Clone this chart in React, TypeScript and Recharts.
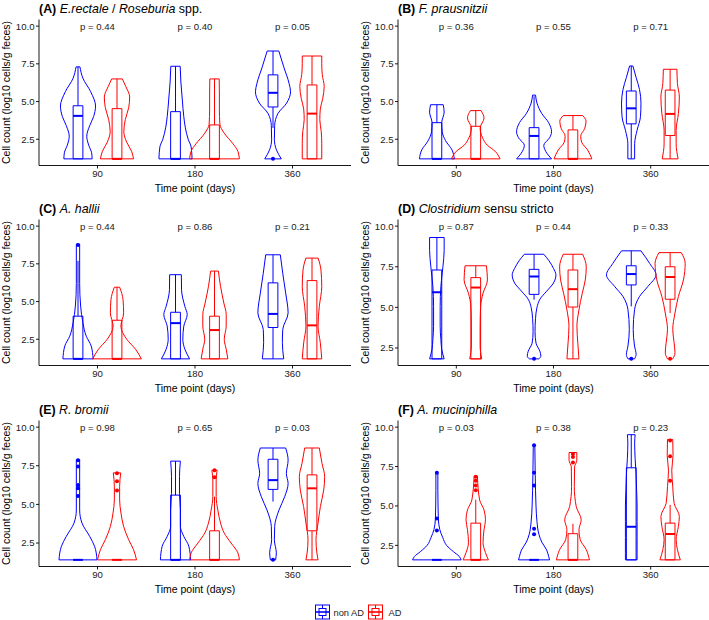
import React from 'react';
import { ComposedChart, XAxis, YAxis, Scatter, ReferenceLine, ReferenceArea } from 'recharts';

const timepoints = ['90', '180', '360'];
const groupNames = ['non AD', 'AD'];
const groupColors = ['#0000FF', '#FF0000'];
const FONT = '"Liberation Sans", Arial, Helvetica, sans-serif';

// Violin profiles: [value, half-width] from top to bottom.
// Order: 90 non AD, 90 AD, 180 non AD, 180 AD, 360 non AD, 360 AD
const profilesA = [
  [[7.3, 0.02], [6.55, 0.05], [5.65, 0.13], [4.7, 0.18], [4.0, 0.16], [3.4, 0.12], [2.7, 0.09], [2.1, 0.11], [1.6, 0.14], [1.2, 0.145]],
  [[6.5, 0.055], [6.0, 0.09], [5.3, 0.13], [4.6, 0.12], [3.8, 0.085], [3.0, 0.07], [2.3, 0.1], [1.7, 0.15], [1.2, 0.17]],
  [[7.34, 0.048], [6.3, 0.055], [5.1, 0.07], [4.0, 0.085], [3.3, 0.1], [2.5, 0.13], [2.0, 0.16], [1.2, 0.17]],
  [[6.5, 0.048], [5.5, 0.05], [4.5, 0.05], [3.5, 0.055], [2.9, 0.1], [2.2, 0.19], [1.7, 0.24], [1.2, 0.255]],
  [[8.35, 0.06], [7.3, 0.11], [6.2, 0.165], [5.65, 0.18], [4.9, 0.14], [4.2, 0.05], [3.4, 0.017], [2.5, 0.014], [1.8, 0.035], [1.2, 0.085]],
  [[8.02, 0.1], [7.5, 0.1], [6.8, 0.105], [6.0, 0.125], [5.2, 0.11], [4.5, 0.085], [3.8, 0.08], [3.0, 0.095], [2.2, 0.1], [1.2, 0.1]],
];
// Box stats: [lower whisker, q1, median, q3, upper whisker]
const boxesA = [[1.2, 1.2, 4.05, 4.72, 7.3], [1.2, 1.2, 1.2, 4.53, 6.5], [1.2, 1.2, 1.2, 4.33, 7.34], [1.2, 1.2, 1.2, 3.45, 6.5], [3.25, 4.64, 5.58, 6.77, 8.35], [1.2, 1.2, 4.2, 6.1, 8.02]];
const outliersA = [[], [], [], [], [1.2], []];
const pValuesA = ['0.44', '0.40', '0.05'];

const profilesB = [
  [[4.79, 0.065], [4.3, 0.075], [3.6, 0.05], [3.0, 0.055], [2.4, 0.09], [1.8, 0.155], [1.2, 0.18]],
  [[4.4, 0.055], [3.9, 0.085], [3.25, 0.045], [2.6, 0.07], [2.1, 0.12], [1.7, 0.2], [1.2, 0.25]],
  [[5.43, 0.015], [4.9, 0.03], [4.2, 0.08], [3.6, 0.15], [3.0, 0.18], [2.6, 0.16], [2.1, 0.1], [1.7, 0.12], [1.2, 0.18]],
  [[4.07, 0.1], [3.7, 0.135], [3.2, 0.12], [2.7, 0.08], [2.3, 0.09], [1.8, 0.15], [1.2, 0.195]],
  [[7.36, 0.017], [6.6, 0.05], [5.8, 0.085], [4.9, 0.1], [4.0, 0.095], [3.1, 0.06], [2.2, 0.035], [1.2, 0.035]],
  [[7.14, 0.07], [6.2, 0.075], [5.3, 0.095], [4.2, 0.085], [3.1, 0.062], [2.2, 0.062], [1.2, 0.082]],
];
const boxesB = [[1.2, 1.2, 1.2, 3.6, 4.79], [1.2, 1.2, 1.2, 3.36, 4.4], [1.2, 1.2, 2.72, 3.27, 5.35], [1.2, 1.2, 1.2, 3.12, 4.07], [1.2, 3.52, 4.55, 5.7, 7.36], [1.2, 2.75, 4.18, 5.76, 7.14]];
const outliersB = [[], [], [], [], [], []];
const pValuesB = ['0.36', '0.55', '0.71'];

const profilesC = [
  [[8.8, 0.017], [7.75, 0.017], [6.2, 0.017], [4.7, 0.027], [3.6, 0.05], [2.7, 0.085], [2.06, 0.135], [1.2, 0.155]],
  [[5.95, 0.027], [5.12, 0.062], [4.25, 0.068], [3.37, 0.04], [2.5, 0.1], [1.84, 0.19], [1.2, 0.25]],
  [[6.78, 0.06], [5.78, 0.062], [4.68, 0.096], [4.14, 0.12], [3.37, 0.085], [2.5, 0.075], [1.84, 0.096], [1.2, 0.145]],
  [[7.02, 0.04], [6.0, 0.062], [4.9, 0.096], [4.14, 0.12], [3.37, 0.12], [2.5, 0.1], [1.84, 0.12], [1.2, 0.137]],
  [[8.1, 0.075], [6.87, 0.1], [5.56, 0.13], [4.25, 0.155], [3.15, 0.1], [2.28, 0.096], [1.2, 0.11]],
  [[7.88, 0.063], [7.09, 0.092], [6.0, 0.1], [4.68, 0.075], [3.37, 0.062], [2.28, 0.085], [1.2, 0.1]],
];
const boxesC = [[1.2, 1.2, 1.2, 4.03, 7.7], [1.2, 1.2, 1.2, 3.76, 5.95], [1.2, 1.2, 3.57, 4.29, 6.78], [1.2, 1.2, 3.11, 4.03, 7.02], [1.2, 3.28, 4.18, 6.24, 8.1], [1.2, 1.2, 3.42, 6.39, 7.88]];
const outliersC = [[8.75], [], [], [], [], []];
const pValuesC = ['0.44', '0.86', '0.21'];

const profilesD = [
  [[9.3, 0.075], [8.5, 0.075], [7.5, 0.062], [6.28, 0.041], [5.06, 0.034], [3.84, 0.034], [3.03, 0.041], [2.42, 0.05], [1.83, 0.075]],
  [[7.56, 0.11], [6.69, 0.12], [5.87, 0.075], [5.06, 0.05], [3.84, 0.045], [2.62, 0.045], [1.83, 0.062]],
  [[8.27, 0.1], [7.9, 0.15], [7.4, 0.2], [7.0, 0.225], [6.5, 0.2], [6.0, 0.13], [5.5, 0.06], [5.0, 0.03], [4.3, 0.015], [3.5, 0.01], [2.8, 0.02], [2.3, 0.06], [2.0, 0.07], [1.83, 0.05]],
  [[8.27, 0.1], [7.5, 0.137], [6.69, 0.127], [5.87, 0.096], [4.85, 0.062], [3.84, 0.041], [2.82, 0.05], [1.83, 0.062]],
  [[8.48, 0.1], [7.7, 0.19], [7.0, 0.255], [6.28, 0.17], [5.67, 0.085], [4.86, 0.034], [3.64, 0.02], [2.62, 0.034], [2.1, 0.05], [1.83, 0.034]],
  [[8.37, 0.115], [7.7, 0.155], [6.69, 0.137], [5.67, 0.085], [4.65, 0.05], [3.64, 0.027], [2.82, 0.041], [2.2, 0.05], [1.83, 0.027]],
];
const boxesD = [[1.83, 1.83, 5.93, 7.3, 9.3], [1.83, 1.83, 6.22, 6.83, 7.56], [5.47, 5.8, 6.9, 7.34, 8.27], [1.83, 5.02, 6.12, 7.3, 8.27], [5.06, 6.38, 7.05, 7.56, 8.48], [4.65, 5.5, 6.87, 7.5, 8.37]];
const outliersD = [[], [], [1.83], [], [1.83], [1.83]];
const pValuesD = ['0.87', '0.44', '0.33'];

const profilesE = [
  [[7.9, 0.017], [6.36, 0.017], [4.64, 0.017], [3.79, 0.041], [2.93, 0.12], [2.29, 0.17], [1.41, 0.195]],
  [[7.04, 0.038], [6.14, 0.027], [5.29, 0.027], [4.43, 0.041], [3.57, 0.068], [2.71, 0.12], [2.07, 0.17], [1.41, 0.2]],
  [[7.8, 0.05], [6.8, 0.041], [5.71, 0.041], [4.64, 0.05], [3.57, 0.05], [2.93, 0.085], [2.29, 0.137], [1.41, 0.155]],
  [[7.21, 0.027], [6.57, 0.017], [5.5, 0.017], [4.64, 0.034], [3.79, 0.062], [3.14, 0.1], [2.5, 0.17], [1.86, 0.24], [1.41, 0.255]],
  [[8.65, 0.13], [7.86, 0.155], [7.0, 0.137], [6.36, 0.155], [5.5, 0.12], [4.64, 0.062], [3.57, 0.017], [2.71, 0.014], [1.86, 0.034], [1.41, 0.027]],
  [[8.65, 0.075], [7.64, 0.103], [6.79, 0.13], [5.93, 0.12], [4.86, 0.086], [3.79, 0.062], [2.71, 0.041], [1.86, 0.05], [1.41, 0.062]],
];
const boxesE = [[1.41, 1.41, 1.41, 1.41, 1.41], [1.41, 1.41, 1.41, 1.41, 1.41], [1.41, 1.41, 1.41, 5.6, 7.8], [1.41, 1.41, 1.41, 3.29, 5.5], [5.18, 5.97, 6.57, 7.92, 8.65], [1.41, 3.29, 6.04, 6.91, 8.65]];
const outliersE = [[7.85, 7.45, 6.25, 6.05, 5.55], [7.02, 6.5, 5.9], [], [7.21, 6.75], [1.41], []];
const pValuesE = ['0.98', '0.65', '0.03'];

const profilesF = [
  [[7.1, 0.01], [6.0, 0.01], [5.0, 0.012], [4.2, 0.015], [3.5, 0.03], [3.0, 0.06], [2.5, 0.1], [2.1, 0.17], [1.8, 0.23], [1.58, 0.25]],
  [[6.89, 0.017], [5.38, 0.04], [4.75, 0.085], [4.12, 0.1], [3.49, 0.085], [2.67, 0.075], [2.04, 0.1], [1.58, 0.13]],
  [[8.89, 0.008], [7.0, 0.012], [6.0, 0.015], [5.0, 0.02], [4.0, 0.03], [3.2, 0.05], [2.7, 0.08], [2.2, 0.13], [1.8, 0.15], [1.58, 0.16]],
  [[8.39, 0.04], [7.9, 0.04], [7.48, 0.017], [6.22, 0.014], [4.96, 0.034], [4.12, 0.085], [3.49, 0.062], [2.86, 0.075], [2.23, 0.137], [1.58, 0.17]],
  [[9.52, 0.04], [9.0, 0.035], [8.0, 0.04], [7.0, 0.05], [6.0, 0.055], [5.0, 0.06], [4.0, 0.06], [3.0, 0.06], [2.0, 0.06], [1.58, 0.06]],
  [[9.22, 0.027], [8.2, 0.03], [7.27, 0.017], [6.22, 0.027], [5.17, 0.041], [4.33, 0.095], [3.7, 0.085], [2.86, 0.062], [2.23, 0.075], [1.58, 0.105]],
];
const boxesF = [[1.58, 1.58, 1.58, 1.58, 1.58], [1.58, 1.58, 1.58, 3.91, 5.4], [1.58, 1.58, 1.58, 1.58, 1.58], [1.58, 1.58, 1.58, 3.24, 3.87], [1.58, 1.58, 3.68, 7.42, 9.52], [1.58, 1.58, 3.22, 3.91, 5.07]];
const outliersF = [[7.1, 4.2, 3.45], [6.85, 6.6, 6.3, 6.0], [8.85, 7.1, 6.3, 3.55, 3.2], [8.3, 8.1, 7.75], [], [9.15, 8.15, 6.6]];
const pValuesF = ['0.03', '0.38', '0.23'];

const yTicks = [2.5, 5, 7.5, 10];

type Seg = { t: string; b?: boolean; i?: boolean };
const titleA: Seg[] = [{ t: '(A)', b: true }, { t: ' ' }, { t: 'E.rectale', i: true }, { t: ' / ' }, { t: 'Roseburia', i: true }, { t: ' spp.' }];
const titleB: Seg[] = [{ t: '(B)', b: true }, { t: ' ' }, { t: 'F. prausnitzii', i: true }];
const titleC: Seg[] = [{ t: '(C)', b: true }, { t: ' ' }, { t: 'A. hallii', i: true }];
const titleD: Seg[] = [{ t: '(D)', b: true }, { t: ' ' }, { t: 'Clostridium', i: true }, { t: ' sensu stricto' }];
const titleE: Seg[] = [{ t: '(E)', b: true }, { t: ' ' }, { t: 'R. bromii', i: true }];
const titleF: Seg[] = [{ t: '(F)', b: true }, { t: ' ' }, { t: 'A. muciniphilla', i: true }];

const DODGE = 0.2;
const BOX_HALF = 0.05;
const LW = 1;

const NoShape = () => null;

function PLabel(props: any) {
  const { cx, cy, payload } = props;
  if (cx == null || cy == null) return null;
  return (
    <text x={cx} y={cy} textAnchor="middle" dominantBaseline="central" fontSize={9.6} fill="#222" fontFamily={FONT}>
      {payload.label}
    </text>
  );
}

function makeDot(color: string) {
  return (props: any) => (props.cx == null ? null : <circle cx={props.cx} cy={props.cy} r={2} fill={color} />);
}

type PanelProps = {
  profiles: number[][][];
  boxes: number[][];
  outliers: number[][];
  pValues: string[];
  width: number;
};

function Panel({ profiles, boxes, outliers, pValues, width }: PanelProps) {
  const values = [...profiles.flat().map((p) => p[0]), ...outliers.flat()];
  const lo = Math.min(...values);
  const hi = Math.max(10, ...values);
  const pad = (hi - lo) * 0.05;
  const elems: React.ReactNode[] = [];

  profiles.forEach((prof, k) => {
    const t = Math.floor(k / 2);
    const g = k % 2;
    const color = groupColors[g];
    const c = t + 1 + (g === 0 ? -DODGE : DODGE);
    const left = prof.map(([v, w]) => ({ x: c - w, y: v }));
    const right = prof.map(([v, w]) => ({ x: c + w, y: v }));
    const [topV, topW] = prof[0];
    const [botV, botW] = prof[prof.length - 1];
    elems.push(
      <Scatter key={`vl${k}`} name={groupNames[g]} data={left} fill={color} line={{ stroke: color, strokeWidth: LW }}
        lineType="joint" lineJointType="monotoneY" shape={NoShape} isAnimationActive={false} />
    );
    elems.push(
      <Scatter key={`vr${k}`} name={groupNames[g]} data={right} fill={color} line={{ stroke: color, strokeWidth: LW }}
        lineType="joint" lineJointType="monotoneY" shape={NoShape} isAnimationActive={false} />
    );
    elems.push(
      <ReferenceLine key={`vt${k}`} segment={[{ x: c - topW, y: topV }, { x: c + topW, y: topV }]} stroke={color} strokeWidth={LW} ifOverflow="visible" />
    );
    elems.push(
      <ReferenceLine key={`vb${k}`} segment={[{ x: c - botW, y: botV }, { x: c + botW, y: botV }]} stroke={color} strokeWidth={LW} ifOverflow="visible" />
    );
    const [wLo, q1, med, q3, wHi] = boxes[k];
    if (q3 > q1) {
      elems.push(
        <ReferenceArea key={`bx${k}`} x1={c - BOX_HALF} x2={c + BOX_HALF} y1={q1} y2={q3} stroke={color} strokeWidth={LW}
          fill="none" fillOpacity={0} ifOverflow="visible" />
      );
    }
    if (wHi > q3) {
      elems.push(
        <ReferenceLine key={`wh${k}`} segment={[{ x: c, y: q3 }, { x: c, y: wHi }]} stroke={color} strokeWidth={LW} ifOverflow="visible" />
      );
    }
    if (q1 > wLo) {
      elems.push(
        <ReferenceLine key={`wl${k}`} segment={[{ x: c, y: wLo }, { x: c, y: q1 }]} stroke={color} strokeWidth={LW} ifOverflow="visible" />
      );
    }
    elems.push(
      <ReferenceLine key={`md${k}`} segment={[{ x: c - BOX_HALF, y: med }, { x: c + BOX_HALF, y: med }]} stroke={color} strokeWidth={2} ifOverflow="visible" />
    );
    if (outliers[k].length) {
      elems.push(
        <Scatter key={`ol${k}`} data={outliers[k].map((v) => ({ x: c, y: v }))} fill={color} shape={makeDot(color)} isAnimationActive={false} />
      );
    }
  });

  const pData = pValues.map((p, i) => ({ x: i + 1, y: 10, label: `p = ${p}` }));

  return (
    <ComposedChart width={width} height={200} margin={{ top: 19.5, right: 0, bottom: 0, left: 0 }}>
      <XAxis
        type="number"
        dataKey="x"
        domain={[0.4, 3.6]}
        allowDataOverflow
        ticks={[1, 2, 3]}
        interval={0}
        tickFormatter={(v: number) => timepoints[Math.round(v) - 1]}
        height={34.5}
        tickSize={3}
        tickMargin={2}
        axisLine={{ stroke: '#000', strokeWidth: 0.9 }}
        tickLine={{ stroke: '#000', strokeWidth: 0.9 }}
        tick={{ fontSize: 9.6, fill: '#1a1a1a', fontFamily: FONT }}
        label={{ value: 'Time point (days)', position: 'insideBottom', offset: 8.5, style: { fontSize: 10.5, fill: '#000', fontFamily: FONT } }}
      />
      <YAxis
        type="number"
        dataKey="y"
        domain={[lo - pad, hi + pad]}
        allowDataOverflow
        ticks={yTicks}
        interval={0}
        tickFormatter={(v: number) => v.toFixed(1)}
        width={39}
        tickSize={3}
        tickMargin={1.5}
        axisLine={{ stroke: '#000', strokeWidth: 0.9 }}
        tickLine={{ stroke: '#000', strokeWidth: 0.9 }}
        tick={{ fontSize: 9.6, fill: '#1a1a1a', fontFamily: FONT }}
        label={{
          value: 'Cell count (log10 cells/g feces)',
          angle: -90,
          position: 'insideLeft',
          offset: 6.5,
          style: { fontSize: 10.5, fill: '#000', fontFamily: FONT, textAnchor: 'middle' },
        }}
      />
      {elems}
      <Scatter data={pData} shape={PLabel} isAnimationActive={false} />
    </ComposedChart>
  );
}

const panels = [
  { id: 'A', left: 0, top: 0, width: 351, profiles: profilesA, boxes: boxesA, outliers: outliersA, p: pValuesA, title: titleA },
  { id: 'B', left: 359, top: 0, width: 350, profiles: profilesB, boxes: boxesB, outliers: outliersB, p: pValuesB, title: titleB },
  { id: 'C', left: 0, top: 200, width: 351, profiles: profilesC, boxes: boxesC, outliers: outliersC, p: pValuesC, title: titleC },
  { id: 'D', left: 359, top: 200, width: 350, profiles: profilesD, boxes: boxesD, outliers: outliersD, p: pValuesD, title: titleD },
  { id: 'E', left: 0, top: 401, width: 351, profiles: profilesE, boxes: boxesE, outliers: outliersE, p: pValuesE, title: titleE },
  { id: 'F', left: 359, top: 401, width: 350, profiles: profilesF, boxes: boxesF, outliers: outliersF, p: pValuesF, title: titleF },
];

function LegendKey({ x, y, color }: { x: number; y: number; color: string }) {
  return (
    <g stroke={color} strokeWidth={1} fill="none">
      <rect x={x + 0.5} y={y + 0.5} width={14} height={14} />
      <rect x={x + 4} y={y + 4} width={7} height={7} />
      <line x1={x + 0.5} x2={x + 14.5} y1={y + 7.5} y2={y + 7.5} strokeWidth={1.6} />
      <line x1={x + 7.5} x2={x + 7.5} y1={y + 0.5} y2={y + 4} />
      <line x1={x + 7.5} x2={x + 7.5} y1={y + 11} y2={y + 14.5} />
    </g>
  );
}

export default function App() {
  return (
    <div style={{ position: 'absolute', left: 0, top: 0, width: 709, height: 620, background: '#fff', overflow: 'hidden' }}>
      {panels.map((p) => (
        <div key={p.id} style={{ position: 'absolute', left: p.left, top: p.top }}>
          <Panel profiles={p.profiles} boxes={p.boxes} outliers={p.outliers} pValues={p.p} width={p.width} />
        </div>
      ))}
      <svg width={709} height={620} style={{ position: 'absolute', left: 0, top: 0, pointerEvents: 'none' }}>
        {panels.map((p) => (
          <text key={p.id} x={p.left + 39} y={p.top + 12.5} fontSize={12.4} fontFamily={FONT} fill="#000" style={{ whiteSpace: 'pre' }}>
            {p.title.map((s, i) => (
              <tspan key={i} fontWeight={s.b ? 'bold' : 'normal'} fontStyle={s.i ? 'italic' : 'normal'}>
                {s.t}
              </tspan>
            ))}
          </text>
        ))}
        <LegendKey x={315} y={604.5} color={groupColors[0]} />
        <text x={333.5} y={615.5} fontSize={9.3} fontFamily={FONT} fill="#222">{groupNames[0]}</text>
        <LegendKey x={368} y={604.5} color={groupColors[1]} />
        <text x={388.5} y={615.5} fontSize={9.3} fontFamily={FONT} fill="#222">{groupNames[1]}</text>
      </svg>
    </div>
  );
}
